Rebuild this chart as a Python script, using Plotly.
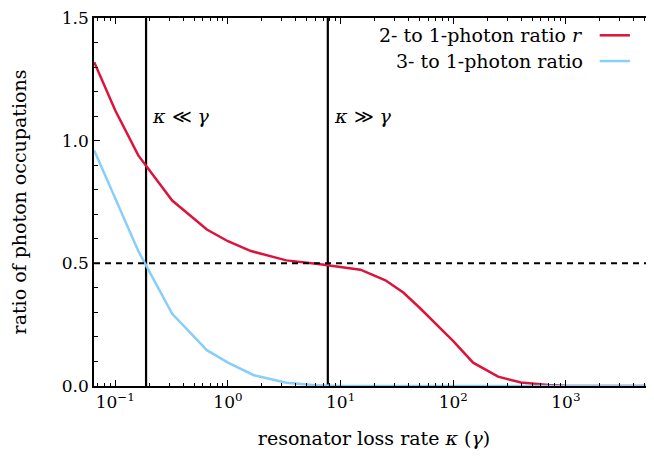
import numpy as np
import plotly.graph_objects as go

# resonator loss rate kappa (units of gamma)
kappa_red = [0.065, 0.1, 0.16, 0.32, 0.65, 1.0, 1.6, 3.3, 6.6, 15, 25, 36, 50, 70, 100, 150, 250, 400, 700, 1000, 1500, 3000, 7000]
ratio_2to1 = [1.32, 1.123, 0.94, 0.756, 0.638, 0.59, 0.55, 0.512, 0.496, 0.474, 0.431, 0.381, 0.32, 0.255, 0.183, 0.095, 0.038, 0.014, 0.004, 0.001, 0.0, 0.0, 0.0]

kappa_blue = [0.065, 0.1, 0.16, 0.32, 0.65, 1.0, 1.7, 3.3, 6.0, 10, 100, 1000, 7000]
ratio_3to1 = [0.96, 0.765, 0.55, 0.294, 0.146, 0.095, 0.044, 0.013, 0.003, 0.0, 0.0, 0.0, 0.0]

crossings = [0.1875, 7.7]          # where the ratios cross 0.5
half_level = 0.5
regime_labels = ["<i>κ</i> ≪ <i>γ</i>", "<i>κ</i> ≫ <i>γ</i>"]
series_names = ["2- to 1-photon ratio <i>r</i>", "3- to 1-photon ratio"]

x_tickvals = [0.1, 1, 10, 100, 1000]
x_ticktext = ["10<sup>−1</sup>", "10<sup>0</sup>", "10<sup>1</sup>", "10<sup>2</sup>", "10<sup>3</sup>"]
y_tickvals = [0.0, 0.5, 1.0, 1.5]
y_ticktext = ["0.0", "0.5", "1.0", "1.5"]

RED = "#DC143C"
BLUE = "#87CEFA"
FONT = "DejaVu Serif"
FS = 19
TFS = 17

fig = go.Figure()
for xc in crossings:
    fig.add_trace(go.Scatter(x=[xc, xc], y=[0, 1.5], mode="lines",
                             line=dict(color="black", width=2.2), showlegend=False, hoverinfo="skip"))
fig.add_trace(go.Scatter(x=kappa_red, y=ratio_2to1, mode="lines",
                         line=dict(color=RED, width=2.5), showlegend=False))
fig.add_trace(go.Scatter(x=kappa_blue, y=ratio_3to1, mode="lines",
                         line=dict(color=BLUE, width=2.5), showlegend=False))

fig.add_hline(y=half_level, line=dict(color="black", width=2, dash="6px,5px"))

for xc, lab in zip(crossings, regime_labels):
    fig.add_annotation(x=np.log10(xc), y=1.1, xref="x", yref="y", text=lab,
                       showarrow=False, xanchor="left", yanchor="middle", xshift=4,
                       font=dict(family=FONT, size=FS, color="black"))

# legend (text right, sample line on the right)
leg_y = [0.953, 0.883]
for name, col, yy in zip(series_names, [RED, BLUE], leg_y):
    fig.add_annotation(x=0.877, y=yy, xref="paper", yref="paper", text=name,
                       showarrow=False, xanchor="right", yanchor="middle",
                       font=dict(family=FONT, size=FS, color="black"))
    fig.add_shape(type="line", xref="paper", yref="paper", x0=0.903, x1=0.957, y0=yy, y1=yy,
                  line=dict(color=col, width=2.5))

fig.update_xaxes(type="log", range=[np.log10(0.0647), 3.782], automargin=False,
                 tickvals=x_tickvals, ticktext=x_ticktext, ticklabeloverflow="allow",
                 ticks="inside", ticklen=6, tickwidth=1, tickcolor="black",
                 showline=True, linecolor="black", linewidth=1.5, mirror="allticks",
                 showgrid=False, zeroline=False,
                 minor=dict(ticks="inside", ticklen=3, tickcolor="black", showgrid=False,
                            tickvals=[v * m for v in [0.01, 0.1, 1, 10, 100, 1000] for m in range(2, 10)]),
                 tickfont=dict(family=FONT, size=TFS, color="black"),
                 title=dict(text="resonator loss rate <i>κ</i> (<i>γ</i>)", standoff=21,
                            font=dict(family=FONT, size=FS, color="black")))
fig.update_yaxes(range=[0, 1.5], tickvals=y_tickvals, ticktext=y_ticktext, automargin=False,
                 ticklabeloverflow="allow",
                 ticks="inside", ticklen=6, tickwidth=1, tickcolor="black",
                 showline=True, linecolor="black", linewidth=1.5, mirror="allticks",
                 showgrid=False, zeroline=False,
                 minor=dict(ticks="inside", ticklen=4, tickcolor="black", dtick=0.1, showgrid=False),
                 tickfont=dict(family=FONT, size=TFS, color="black"),
                 title=dict(text="ratio of photon occupations", standoff=32,
                            font=dict(family=FONT, size=FS, color="black")))

fig.update_layout(width=654, height=460, margin=dict(l=86, r=8, t=10, b=82),
                  plot_bgcolor="white", paper_bgcolor="white", showlegend=False,
                  font=dict(family=FONT, size=FS, color="black"))

fig.write_html("out.html")
